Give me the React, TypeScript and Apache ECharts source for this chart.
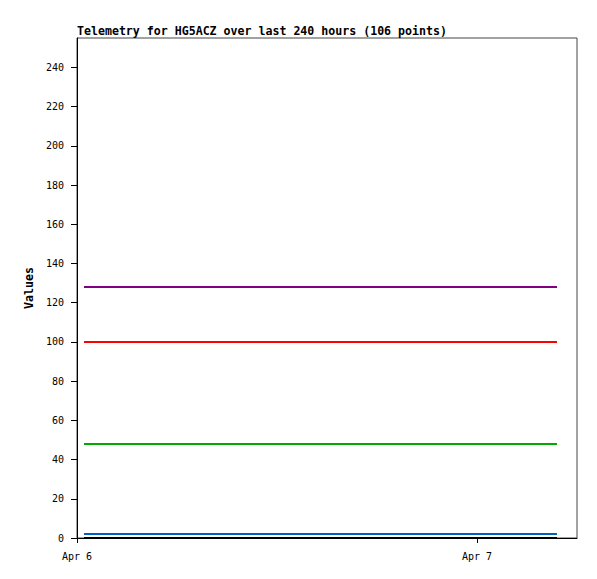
import React, { useEffect, useRef } from "react";
import * as echarts from "echarts";

// hours since Apr 6 00:00
const hours = [0.42, 28.8];
const seriesNames = ["Purple", "Red", "Green", "Blue", "Black"];
const purpleValues = [128, 128];
const redValues = [100, 100];
const greenValues = [48, 48];
const blueValues = [2, 2];
const blackValues = [0, 0];
const yTicks = [0, 20, 40, 60, 80, 100, 120, 140, 160, 180, 200, 220, 240];
const xTicks = [0, 24];
const xTickLabels: Record<number, string> = { 0: "Apr 6", 24: "Apr 7" };
const titleText = "Telemetry for HG5ACZ over last 240 hours (106 points)";

const colors = ["#800080", "#ff0000", "#00aa00", "#0060c0", "#000000"];
const allValues = [purpleValues, redValues, greenValues, blueValues, blackValues];

export default function App() {
  const ref = useRef<HTMLDivElement>(null);
  useEffect(() => {
    if (!ref.current) return;
    const chart = echarts.init(ref.current, undefined, { renderer: "svg" });
    const mono = "DejaVu Sans Mono";
    chart.setOption({
      animation: false,
      backgroundColor: "#ffffff",
      title: {
        text: titleText,
        left: 77,
        top: 25,
        padding: 0,
        textStyle: { fontFamily: mono, fontSize: 11.6, fontWeight: "bold", color: "#000" },
      },
      grid: {
        left: 77,
        top: 38,
        right: 20,
        bottom: 41,
        show: true,
        borderColor: "#444",
        borderWidth: 1,
        containLabel: false,
      },
      xAxis: {
        type: "value",
        min: 0,
        max: 30,
        interval: 24,
        splitLine: { show: false },
        axisLine: { show: true, onZero: false, lineStyle: { color: "#000", width: 1 } },
        axisTick: { show: true, length: 5, customValues: xTicks, lineStyle: { color: "#000" } },
        axisLabel: {
          customValues: xTicks,
          margin: 13,
          fontFamily: mono,
          fontSize: 10,
          color: "#000",
          formatter: (v: number) => xTickLabels[v] ?? "",
        },
      },
      yAxis: {
        type: "value",
        min: 0,
        max: 255,
        interval: 20,
        name: "Values",
        nameLocation: "middle",
        nameRotate: 90,
        nameGap: 41,
        nameTextStyle: { fontFamily: mono, fontSize: 11.6, fontWeight: "bold", color: "#000" },
        splitLine: { show: false },
        axisLine: { show: true, lineStyle: { color: "#000", width: 1 } },
        axisTick: { show: true, length: 6, customValues: yTicks, lineStyle: { color: "#000" } },
        axisLabel: {
          customValues: yTicks,
          margin: 13,
          fontFamily: mono,
          fontSize: 10,
          color: "#000",
        },
      },
      series: seriesNames.map((name, i) => ({
        name,
        type: "line",
        data: hours.map((h, j) => [h, allValues[i][j]]),
        showSymbol: false,
        symbol: "none",
        lineStyle: { color: colors[i], width: 2 },
        itemStyle: { color: colors[i] },
        z: 10 - i,
      })),
    });
    return () => chart.dispose();
  }, []);
  return (
    <div
      ref={ref}
      style={{ position: "fixed", left: 0, top: 0, width: 597, height: 579 }}
    />
  );
}
